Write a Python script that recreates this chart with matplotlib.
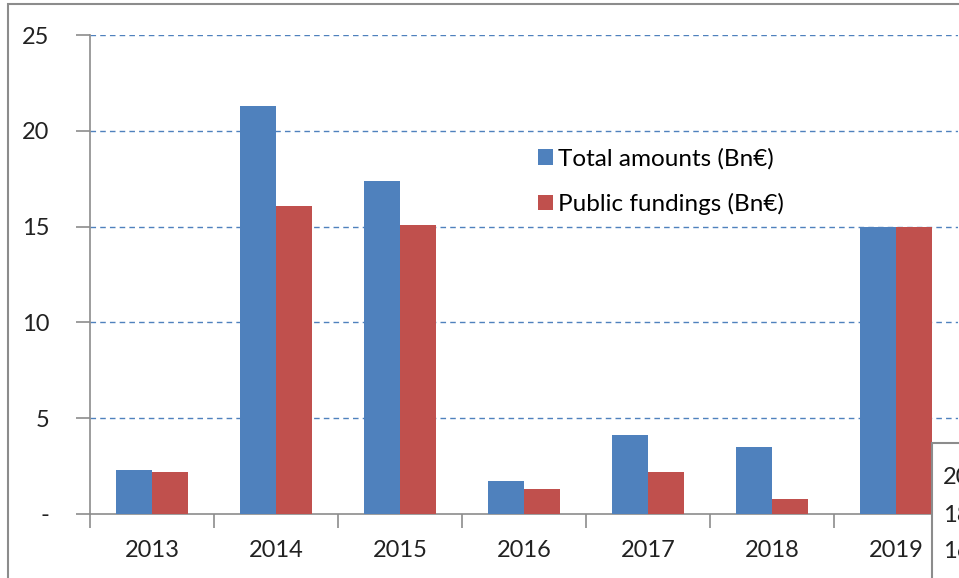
import numpy as np
import matplotlib
matplotlib.use('Agg')
from matplotlib import pyplot as plt
from matplotlib.patches import Rectangle

years = ['2013', '2014', '2015', '2016', '2017', '2018', '2019']
total_amounts = [2.3, 21.3, 17.4, 1.7, 4.1, 3.5, 15.0]
public_fundings = [2.2, 16.1, 15.1, 1.3, 2.2, 0.8, 15.0]
ytick_vals = [0, 5, 10, 15, 20, 25]
ytick_labels = ['-', '5', '10', '15', '20', '25']
table_rows = ['20', '18', '16']

plt.rcParams['font.family'] = ['Lato', 'DejaVu Sans']

W, H = 959, 578
fig = plt.figure(figsize=(W / 100, H / 100), dpi=100)

# outer chart frame
fig.patches.append(Rectangle((8 / W, -0.1), 1.2, 1 - 4 / H + 0.1, transform=fig.transFigure,
                             fill=False, edgecolor='#8c8c8c', linewidth=1.5))

ax = fig.add_axes([90 / W, 1 - 514 / H, 868 / W, (514 - 35) / H])
x = np.arange(len(years))
bw = 0.29
ax.bar(x - bw / 2, total_amounts, bw, color='#4f81bd', label='Total amounts (Bn€)', zorder=3)
ax.bar(x + bw / 2, public_fundings, bw, color='#c0504d', label='Public fundings (Bn€)', zorder=3)

ax.set_xlim(-0.5, len(years) - 0.5)
ax.set_ylim(0, 25)
ax.set_yticks(ytick_vals)
ax.set_yticklabels(ytick_labels)
ax.set_xticks(x)
ax.set_xticklabels(years)
ax.set_xticks(np.arange(len(years) + 1) - 0.5, minor=True)
ax.tick_params(axis='x', which='major', length=0, pad=19, labelsize=17, labelcolor='#222222')
ax.tick_params(axis='x', which='minor', length=10, color='#8c8c8c', width=1.2)
ax.tick_params(axis='y', length=10, color='#8c8c8c', width=1.2, pad=19, labelsize=17,
               labelcolor='#222222')

for v in ytick_vals[1:]:
    ax.axhline(v, color='#4f81bd', linestyle=(0, (4, 3)), linewidth=1, zorder=1)

for s in ['top', 'right']:
    ax.spines[s].set_visible(False)
for s in ['left', 'bottom']:
    ax.spines[s].set_color('#8c8c8c')
    ax.spines[s].set_linewidth(1.2)

ax.legend(loc='upper left', bbox_to_anchor=(526 / W, 1 - 136 / H), bbox_transform=fig.transFigure,
          frameon=False, fontsize=17.5, handlelength=0.6, handleheight=0.6, handletextpad=0.2,
          labelspacing=0.95, borderpad=0)

# partially visible table box at lower right
fig.patches.append(Rectangle((932 / W, -0.1), 0.2, 0.1 + 1 - 443 / H, transform=fig.transFigure,
                             facecolor='white', edgecolor='#8c8c8c', linewidth=1.5, zorder=5))
for i, t in enumerate(table_rows):
    fig.text(943 / W, 1 - (478 + 37 * i) / H, t, fontsize=17, color='#222222',
             va='center', ha='left', zorder=6)

fig.savefig('out.png', dpi=100)
